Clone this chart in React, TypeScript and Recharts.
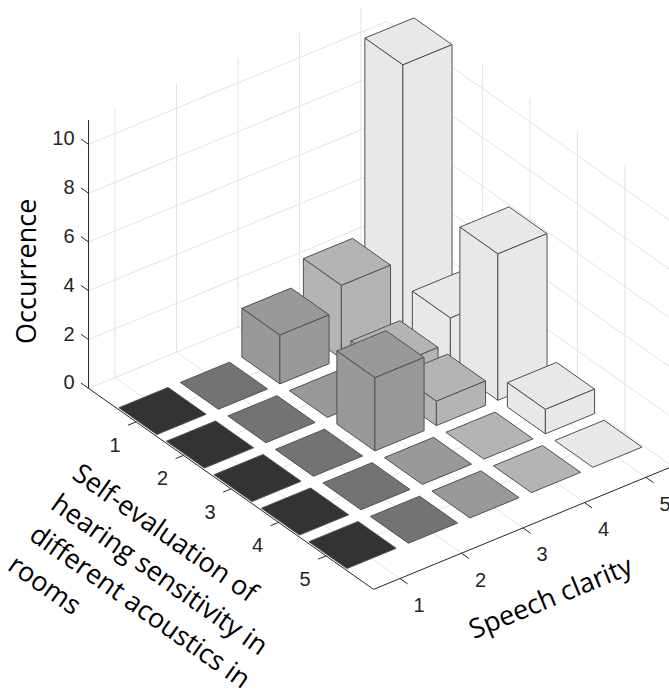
import React from 'react';
import { ScatterChart, Scatter, XAxis, YAxis } from 'recharts';

const rowTicks = [1, 2, 3, 4, 5];
const clarityTicks = [1, 2, 3, 4, 5];
const zTicks = [0, 2, 4, 6, 8, 10];

// occurrences for each self-evaluation level, columns = speech clarity 1..5
const selfEval1 = [0, 0, 2, 3, 11];
const selfEval2 = [0, 0, 0, 1, 2];
const selfEval3 = [0, 0, 3, 1, 6];
const selfEval4 = [0, 0, 0, 0, 1];
const selfEval5 = [0, 0, 0, 0, 0];
const counts = [selfEval1, selfEval2, selfEval3, selfEval4, selfEval5];

const clarityColors = ['#333333', '#737373', '#999999', '#b4b4b4', '#e8e8e8'];

const rowTitle = ['Self-evaluation of', 'hearing sensitivity in', 'different acoustics in', 'rooms'];

const W = 669;
const H = 696;
const PX = 24.4; // pixels per projected unit

// screen offset (projected units) for one step along each data axis
const ROW_STEP = { u: 1.947, v: -1.373 };
const CLAR_STEP = { u: 2.52, v: 1.037 };

const ROW_LIM = [0, 6];
const CLAR_LIM = [0.57, 5.43];
const Z_MAX = 11;
const HALF = 0.4;

const U_DOMAIN = [-53.5 / PX, (W - 53.5) / PX];
const V_DOMAIN = [(402.8 - H) / PX, 402.8 / PX];

const GRID = '#e3e3e3';
const AXIS = '#262626';
const EDGE = '#505050';

type P3 = [number, number, number];

const project = ([r, c, z]: P3) => ({
  u: r * ROW_STEP.u + c * CLAR_STEP.u,
  v: r * ROW_STEP.v + c * CLAR_STEP.v + z,
});

const toPath = (pts: { x: number; y: number }[], closed: boolean) =>
  pts.map((p, i) => `${i ? 'L' : 'M'}${p.x},${p.y}`).join('') + (closed ? 'Z' : '');

type Item =
  | { kind: 'poly'; pts: P3[]; fill: string; stroke: string }
  | { kind: 'line'; pts: P3[]; stroke: string }
  | {
      kind: 'text';
      at: P3;
      text: string | string[];
      dx: number;
      dy: number;
      anchor: 'start' | 'middle' | 'end';
      size: number;
      font: string;
      color: string;
      rotate?: number;
      lineGap?: number;
    };

const items: Item[] = [];

// back walls and floor grid
const [R0, R1] = ROW_LIM;
const [C0, C1] = CLAR_LIM;
clarityTicks.forEach((c) => items.push({ kind: 'line', pts: [[R0, c, 0], [R0, c, Z_MAX]], stroke: GRID }));
rowTicks.forEach((r) => items.push({ kind: 'line', pts: [[r, C1, 0], [r, C1, Z_MAX]], stroke: GRID }));
zTicks.forEach((z) => {
  items.push({ kind: 'line', pts: [[R0, C0, z], [R0, C1, z]], stroke: GRID });
  items.push({ kind: 'line', pts: [[R0, C1, z], [R1, C1, z]], stroke: GRID });
});
clarityTicks.forEach((c) => items.push({ kind: 'line', pts: [[R0, c, 0], [R1, c, 0]], stroke: GRID }));
rowTicks.forEach((r) => items.push({ kind: 'line', pts: [[r, C0, 0], [r, C1, 0]], stroke: GRID }));

// axis lines and ticks
items.push({ kind: 'line', pts: [[R0, C0, 0], [R0, C0, Z_MAX]], stroke: AXIS });
items.push({ kind: 'line', pts: [[R0, C0, 0], [R1, C0, 0]], stroke: AXIS });
items.push({ kind: 'line', pts: [[R1, C0, 0], [R1, C1, 0]], stroke: AXIS });
zTicks.forEach((z) => items.push({ kind: 'line', pts: [[R0, C0, z], [R0 - 0.16, C0, z]], stroke: AXIS }));
rowTicks.forEach((r) => items.push({ kind: 'line', pts: [[r, C0, 0], [r, C0 - 0.13, 0]], stroke: AXIS }));
clarityTicks.forEach((c) => items.push({ kind: 'line', pts: [[R1, c, 0], [R1 + 0.16, c, 0]], stroke: AXIS }));

// bars, back to front
const cells: { r: number; c: number; h: number }[] = [];
counts.forEach((row, ri) => row.forEach((h, ci) => cells.push({ r: rowTicks[ri], c: clarityTicks[ci], h })));
cells.sort((a, b) => a.r - a.c - (b.r - b.c));
cells.forEach(({ r, c, h }) => {
  const fill = clarityColors[clarityTicks.indexOf(c)];
  const r0 = r - HALF, r1 = r + HALF, c0 = c - HALF, c1 = c + HALF;
  items.push({ kind: 'poly', pts: [[r0, c0, h], [r0, c1, h], [r1, c1, h], [r1, c0, h]], fill, stroke: EDGE });
  if (h > 0) {
    items.push({ kind: 'poly', pts: [[r0, c0, 0], [r1, c0, 0], [r1, c0, h], [r0, c0, h]], fill, stroke: EDGE });
    items.push({ kind: 'poly', pts: [[r1, c0, 0], [r1, c1, 0], [r1, c1, h], [r1, c0, h]], fill, stroke: EDGE });
  }
});

// tick labels
const TICK_FONT = '"Liberation Sans", Arial, sans-serif';
const TITLE_FONT = '"Open Sans", "Noto Sans", sans-serif';
zTicks.forEach((z) =>
  items.push({ kind: 'text', at: [R0, C0, z], text: String(z), dx: -14, dy: -6, anchor: 'end', size: 20, font: TICK_FONT, color: AXIS })
);
rowTicks.forEach((r) =>
  items.push({ kind: 'text', at: [r, C0, 0], text: String(r), dx: -21, dy: 23, anchor: 'middle', size: 20, font: TICK_FONT, color: AXIS })
);
clarityTicks.forEach((c) =>
  items.push({ kind: 'text', at: [R1, c, 0], text: String(c), dx: 19, dy: 26.5, anchor: 'middle', size: 20, font: TICK_FONT, color: AXIS })
);

// axis titles
items.push({ kind: 'text', at: [R0, C0, 4.8], text: 'Occurrence', dx: -63.5, dy: 0, anchor: 'middle', size: 27, font: TITLE_FONT, color: '#000', rotate: -90 });
items.push({ kind: 'text', at: [R1, 3, 0], text: 'Speech clarity', dx: 27, dy: 68, anchor: 'middle', size: 27, font: TITLE_FONT, color: '#000', rotate: -22.4 });
items.push({ kind: 'text', at: [3, C0, 0], text: rowTitle, dx: -160.4, dy: -11.4, anchor: 'start', size: 27, font: TITLE_FONT, color: '#000', rotate: 35.2, lineGap: 37.3 });

const noDot = () => <g />;

function renderItem(item: Item, i: number) {
  if (item.kind === 'text') {
    const it = item;
    return (
      <Scatter
        key={i}
        data={[project(it.at)]}
        isAnimationActive={false}
        shape={(p: any) => {
          const x = p.cx + it.dx;
          const y = p.cy + it.dy;
          const lines = Array.isArray(it.text) ? it.text : [it.text];
          return (
            <text
              x={x}
              y={y}
              textAnchor={it.anchor}
              dominantBaseline={lines.length > 1 ? 'auto' : 'central'}
              fontSize={it.size}
              fontFamily={it.font}
              fill={it.color}
              transform={it.rotate ? `rotate(${it.rotate} ${x} ${y})` : undefined}
            >
              {lines.map((t, k) => (
                <tspan key={k} x={x} dy={k ? it.lineGap : 0}>
                  {t}
                </tspan>
              ))}
            </text>
          );
        }}
      />
    );
  }
  const closed = item.kind === 'poly';
  const fill = item.kind === 'poly' ? item.fill : 'none';
  return (
    <Scatter
      key={i}
      data={item.pts.map(project)}
      isAnimationActive={false}
      lineType="joint"
      line={(lp: any) => (
        <path
          d={toPath(lp.points, closed)}
          fill={fill}
          stroke={item.stroke}
          strokeWidth={1}
          strokeLinejoin="round"
        />
      )}
      shape={noDot}
    />
  );
}

export default function App() {
  return (
    <div style={{ position: 'absolute', left: 0, top: 0, width: W, height: H, background: '#fff' }}>
      <ScatterChart width={W} height={H} margin={{ top: 0, right: 0, bottom: 0, left: 0 }}>
        <XAxis type="number" dataKey="u" domain={U_DOMAIN} allowDataOverflow hide />
        <YAxis type="number" dataKey="v" domain={V_DOMAIN} allowDataOverflow hide />
        {items.map(renderItem)}
      </ScatterChart>
    </div>
  );
}
